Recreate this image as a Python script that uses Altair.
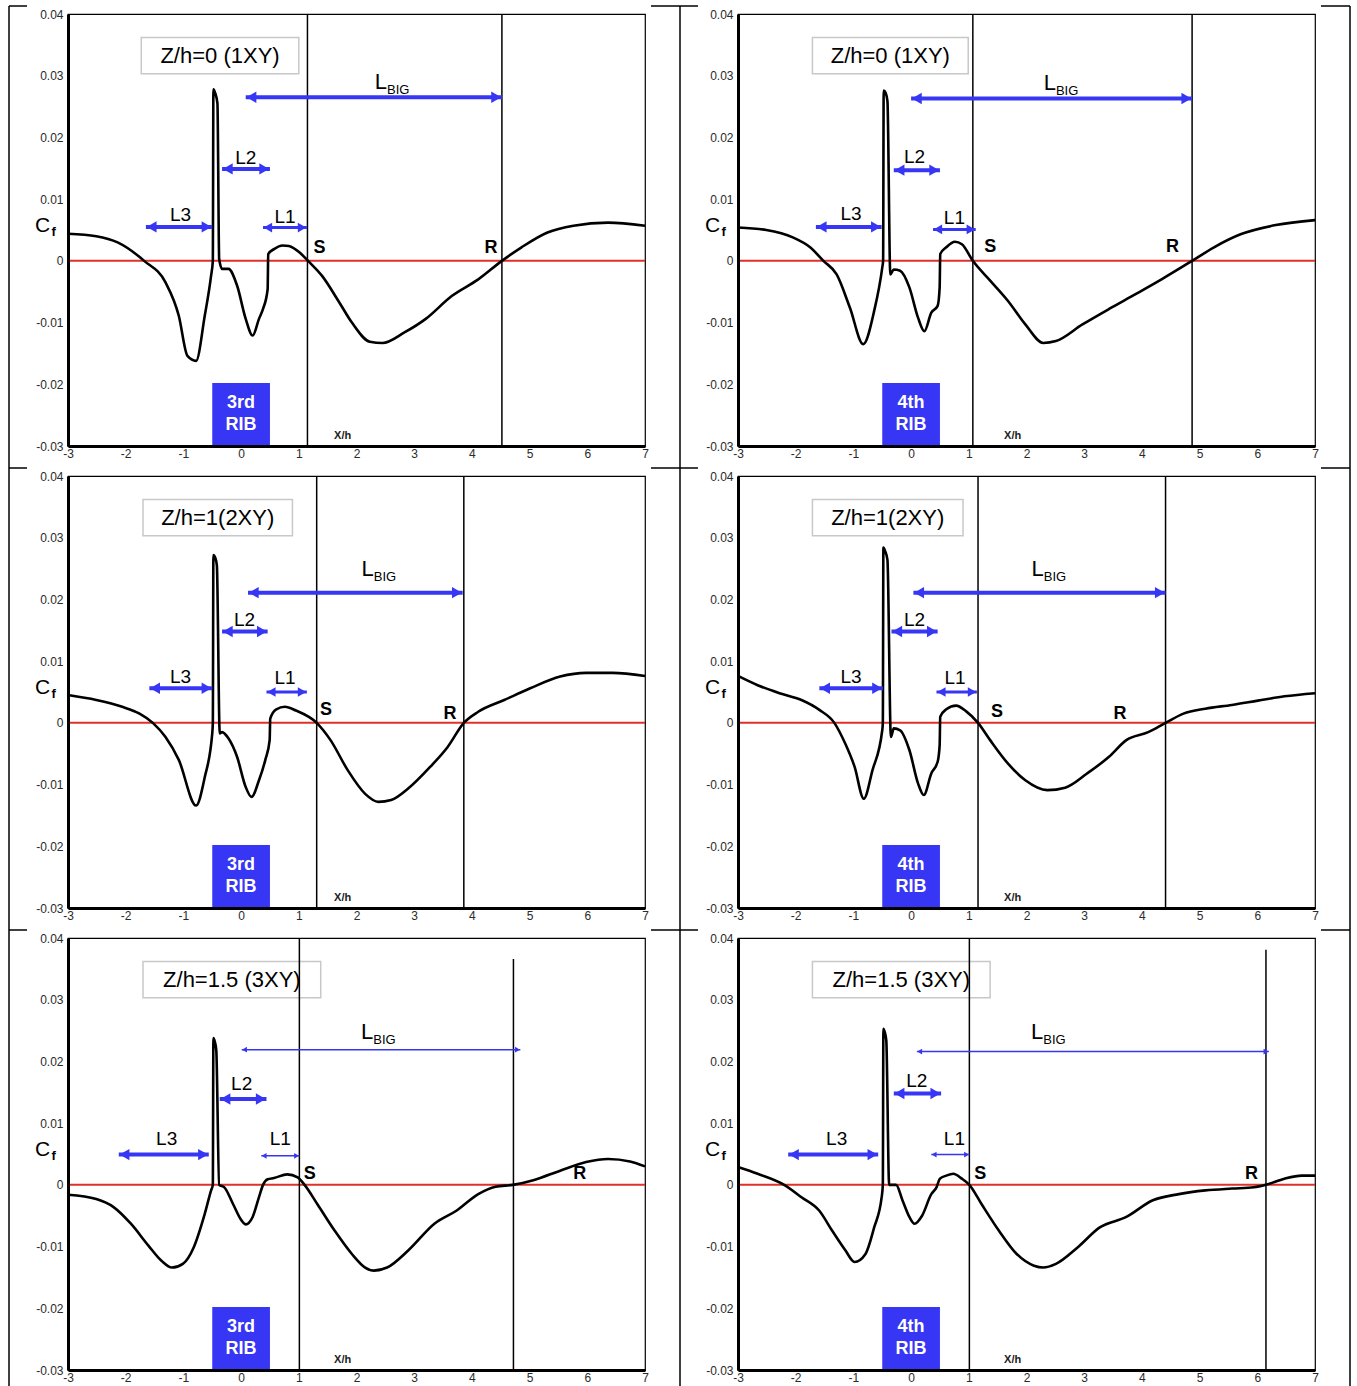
import altair as alt
import pandas as pd

FONT = "Liberation Sans"
BLUE = "#3636f4"
RED = "#e0302a"

# ---------------- curves (x/h, Cf) ----------------
P1_X = [-3.0, -2.51, -2.14, -1.68, -1.31, -1.08, -0.93, -0.78, -0.63, -0.52, -0.49, -0.48, -0.45, -0.41, -0.38, -0.33, -0.22, -0.07, 0.08, 0.20, 0.31, 0.38, 0.46, 0.47, 0.57, 0.72, 0.83, 1.02, 1.16, 1.40, 1.70, 1.92, 2.23, 2.45, 2.83, 3.20, 3.65, 4.11, 4.52, 4.86, 5.31, 5.76, 6.36, 7.0]
P1_Y = [0.0044, 0.0040, 0.0030, 0.0, -0.0035, -0.0089, -0.0154, -0.0162, -0.0089, -0.0024, 0.0, 0.0278, 0.0272, 0.0255, 0.0003, -0.0013, -0.0013, -0.0040, -0.0094, -0.0121, -0.0094, -0.0078, -0.0046, 0.0011, 0.0019, 0.0025, 0.0024, 0.0013, 0.0, -0.0024, -0.0067, -0.0100, -0.0131, -0.0133, -0.0116, -0.0094, -0.0057, -0.0030, 0.0, 0.0022, 0.0046, 0.0057, 0.0062, 0.0057]

P2_X = [-3.0, -2.51, -2.05, -1.75, -1.52, -1.29, -1.06, -0.83, -0.64, -0.50, -0.485, -0.475, -0.44, -0.41, -0.36, -0.30, -0.19, -0.03, 0.12, 0.23, 0.35, 0.46, 0.495, 0.505, 0.61, 0.76, 0.88, 1.07, 1.37, 1.68, 1.98, 2.29, 2.51, 2.97, 3.43, 3.89, 4.34, 4.87, 5.25, 5.71, 6.32, 7.0]
P2_Y = [0.0054, 0.0050, 0.0038, 0.0022, 0.0, -0.0022, -0.0076, -0.0135, -0.0081, -0.0011, 0.0, 0.0276, 0.0272, 0.0259, -0.0022, -0.0014, -0.0016, -0.0043, -0.0092, -0.0114, -0.0084, -0.0073, -0.0043, 0.0011, 0.0022, 0.0031, 0.0027, 0.0, -0.0032, -0.0065, -0.0103, -0.0133, -0.0130, -0.0103, -0.0078, -0.0054, -0.0030, 0.0, 0.0022, 0.0043, 0.0058, 0.0066]

P3_X = [-3.0, -2.51, -2.06, -1.76, -1.53, -1.31, -1.08, -0.78, -0.63, -0.50, -0.49, -0.48, -0.45, -0.42, -0.37, -0.33, -0.22, -0.07, 0.08, 0.18, 0.31, 0.42, 0.495, 0.505, 0.61, 0.76, 0.95, 1.31, 1.55, 1.85, 2.15, 2.38, 2.60, 2.90, 3.28, 3.58, 3.86, 4.11, 4.56, 5.01, 5.53, 5.98, 6.44, 7.0]
P3_Y = [0.0045, 0.0037, 0.0026, 0.0015, 0.0, -0.0023, -0.0060, -0.0134, -0.0088, -0.0017, 0.0, 0.0272, 0.0268, 0.0255, -0.0017, -0.0015, -0.0025, -0.0055, -0.0104, -0.0120, -0.0093, -0.0060, -0.0028, 0.0007, 0.0022, 0.0026, 0.0020, 0.0, -0.0028, -0.0077, -0.0115, -0.0128, -0.0125, -0.0106, -0.0071, -0.0039, 0.0, 0.0018, 0.0037, 0.0056, 0.0075, 0.0081, 0.0081, 0.0076]

P4_X = [-3.0, -2.66, -2.28, -1.90, -1.59, -1.33, -1.14, -0.98, -0.82, -0.67, -0.50, -0.49, -0.48, -0.45, -0.41, -0.35, -0.30, -0.19, -0.03, 0.12, 0.22, 0.35, 0.46, 0.495, 0.505, 0.61, 0.78, 0.95, 1.16, 1.37, 1.68, 1.98, 2.36, 2.67, 3.05, 3.43, 3.73, 4.11, 4.41, 4.72, 5.10, 5.56, 6.01, 6.47, 7.0]
P4_Y = [0.0076, 0.0061, 0.0048, 0.0037, 0.0021, 0.0, -0.0034, -0.0071, -0.0123, -0.0077, -0.0012, 0.0, 0.0284, 0.0278, 0.0264, -0.0023, -0.0009, -0.0012, -0.0044, -0.0098, -0.0117, -0.0082, -0.0063, -0.0036, 0.0010, 0.0022, 0.0028, 0.0019, 0.0, -0.0028, -0.0066, -0.0093, -0.0109, -0.0105, -0.0082, -0.0055, -0.0028, -0.0015, 0.0, 0.0015, 0.0023, 0.0029, 0.0036, 0.0043, 0.0048]

P5_X = [-3.0, -2.51, -2.21, -1.91, -1.61, -1.38, -1.20, -1.01, -0.82, -0.63, -0.52, -0.49, -0.48, -0.455, -0.43, -0.38, -0.29, -0.14, 0.01, 0.08, 0.20, 0.31, 0.38, 0.46, 0.57, 0.80, 0.98, 1.10, 1.32, 1.62, 1.92, 2.15, 2.30, 2.53, 2.90, 3.35, 3.73, 4.11, 4.41, 4.71, 5.08, 5.53, 5.98, 6.36, 6.74, 7.0]
P5_Y = [-0.0016, -0.0023, -0.0036, -0.0063, -0.0098, -0.0123, -0.0134, -0.0128, -0.0101, -0.0047, -0.0009, 0.0, 0.0238, 0.0232, 0.0218, 0.0, -0.0004, -0.0031, -0.0058, -0.0064, -0.0052, -0.0020, 0.0, 0.0009, 0.0011, 0.0017, 0.0012, 0.0, -0.0031, -0.0074, -0.0112, -0.0134, -0.0139, -0.0134, -0.0106, -0.0063, -0.0042, -0.0015, -0.0003, 0.0, 0.0008, 0.0023, 0.0037, 0.0042, 0.0038, 0.0030]

P6_X = [-3.0, -2.66, -2.20, -1.90, -1.59, -1.37, -1.14, -0.98, -0.79, -0.64, -0.51, -0.49, -0.48, -0.455, -0.43, -0.38, -0.26, -0.15, -0.03, 0.06, 0.19, 0.35, 0.44, 0.50, 0.61, 0.73, 0.88, 1.01, 1.22, 1.52, 1.83, 2.13, 2.29, 2.51, 2.89, 3.27, 3.73, 4.19, 4.64, 5.10, 5.56, 5.94, 6.15, 6.47, 6.77, 7.0]
P6_Y = [0.0029, 0.0018, 0.0, -0.0020, -0.0042, -0.0074, -0.0106, -0.0125, -0.0112, -0.0069, -0.0020, 0.0, 0.0253, 0.0247, 0.0234, 0.0, 0.0, -0.0025, -0.0052, -0.0063, -0.0050, -0.0015, -0.0004, 0.0010, 0.0015, 0.0018, 0.0010, 0.0, -0.0031, -0.0074, -0.0112, -0.0131, -0.0134, -0.0128, -0.0101, -0.0069, -0.0052, -0.0025, -0.0015, -0.0009, -0.0006, -0.0004, 0.0, 0.0010, 0.0015, 0.0015]

CURVES_X = [P1_X, P2_X, P3_X, P4_X, P5_X, P6_X]
CURVES_Y = [P1_Y, P2_Y, P3_Y, P4_Y, P5_Y, P6_Y]

# ---------------- per-panel annotations ----------------
TITLES = ["Z/h=0 (1XY)", "Z/h=0 (1XY)", "Z/h=1(2XY)", "Z/h=1(2XY)", "Z/h=1.5 (3XY)", "Z/h=1.5 (3XY)"]
TITLE_BOX_X1 = [-1.73, -1.71, -1.70, -1.71, -1.70, -1.71]
TITLE_BOX_X2 = [1.00, 0.99, 0.89, 0.90, 1.38, 1.37]
TITLE_BOX_Y = [0.0303, 0.0362]

RIB_ORDINAL = ["3rd", "4th", "3rd", "4th", "3rd", "4th"]
RIB_BOX_X = [-0.5, 0.5]
RIB_BOX_Y = [-0.03, -0.0198]
RIB_TEXT_Y = [-0.0230, -0.0266]

S_POS = [1.15, 1.07, 1.31, 1.16, 1.01, 1.01]
R_POS = [4.52, 4.87, 3.86, 4.41, 4.72, 6.15]
R_TOP = [0.04, 0.04, 0.04, 0.04, 0.0366, 0.0381]

LBIG_X1 = [0.08, 0.00, 0.12, 0.04, 0.01, 0.10]
LBIG_X2 = [4.52, 4.87, 3.84, 4.41, 4.84, 6.20]
LBIG_Y = [0.0265, 0.0263, 0.0211, 0.0211, 0.0219, 0.0216]
LBIG_W = [4, 4, 4, 4, 1.5, 1.5]
LBIG_TXT_X = [2.53, 2.51, 2.30, 2.30, 2.29, 2.29]
LBIG_TXT_Y = [0.0290, 0.0288, 0.0249, 0.0249, 0.0248, 0.0248]

L2_X1 = [-0.33, -0.30, -0.33, -0.34, -0.37, -0.30]
L2_X2 = [0.50, 0.50, 0.46, 0.46, 0.44, 0.52]
L2_Y = [0.0149, 0.0147, 0.0148, 0.0148, 0.0139, 0.0148]
L2_W = [4, 4, 4, 4, 4, 4]
L2_TXT_X = [0.08, 0.06, 0.06, 0.06, 0.01, 0.10]
L2_TXT_Y = [0.0167, 0.0168, 0.0166, 0.0166, 0.0164, 0.0169]

L3_X1 = [-1.65, -1.65, -1.59, -1.59, -2.12, -2.13]
L3_X2 = [-0.50, -0.51, -0.50, -0.49, -0.56, -0.57]
L3_Y = [0.0055, 0.0055, 0.0056, 0.0056, 0.0049, 0.0049]
L3_W = [4, 4, 4, 4, 4, 4]
L3_TXT_X = [-1.05, -1.04, -1.05, -1.04, -1.29, -1.29]
L3_TXT_Y = [0.0075, 0.0076, 0.0075, 0.0075, 0.0075, 0.0075]

L1_X1 = [0.38, 0.38, 0.44, 0.44, 0.35, 0.35]
L1_X2 = [1.14, 1.12, 1.14, 1.14, 1.01, 1.01]
L1_Y = [0.0054, 0.0051, 0.0050, 0.0050, 0.0047, 0.0049]
L1_W = [3, 3, 3, 3, 1.5, 1.5]
L1_TXT_X = [0.76, 0.75, 0.76, 0.76, 0.68, 0.75]
L1_TXT_Y = [0.0071, 0.0070, 0.0072, 0.0072, 0.0075, 0.0075]

S_TXT_X = [1.36, 1.37, 1.47, 1.49, 1.19, 1.20]
S_TXT_Y = [0.0021, 0.0022, 0.0021, 0.0018, 0.0018, 0.0018]
R_TXT_X = [4.33, 4.53, 3.62, 3.62, 5.87, 5.90]
R_TXT_Y = [0.0021, 0.0022, 0.0015, 0.0015, 0.0018, 0.0018]

XH_POS = [1.76, -0.0283]
C_POS = [-3.44, 0.0056]
F_POS = [-3.25, 0.0046]

X_TICKS = [-3, -2, -1, 0, 1, 2, 3, 4, 5, 6, 7]
Y_TICKS = [-0.03, -0.02, -0.01, 0.0, 0.01, 0.02, 0.03, 0.04]

PANEL_W = 577
PANEL_H = 432
PX_PER_X = PANEL_W / 10.0

# ---------------- scales / axes ----------------
XS = alt.Scale(domain=[-3, 7], nice=False, zero=False)
YS = alt.Scale(domain=[-0.03, 0.04], nice=False, zero=False)
XAX = alt.Axis(values=X_TICKS, title=None, grid=False, ticks=False, tickSize=0,
               domainWidth=3, domainColor="black",
               labelFont=FONT, labelFontSize=12, labelColor="#2a2a2a", labelPadding=2,
               labelFlush=False, labelOverlap=False, zindex=1,
               labelExpr="datum.value < 0 ? '-' + format(-datum.value, 'd') : format(datum.value, 'd')")
YAX = alt.Axis(values=Y_TICKS, title=None, grid=False, ticks=False, tickSize=0,
               domainWidth=3, domainColor="black",
               labelFont=FONT, labelFontSize=12, labelColor="#2a2a2a", labelPadding=5,
               labelFlush=False, labelOverlap=False, zindex=1,
               labelExpr="datum.value < 0 ? '-' + format(-datum.value, '.2~f') : format(datum.value, '.2~f')")


def X(f="x"):
    return alt.X(f"{f}:Q", scale=XS, axis=XAX)


def Y(f="y"):
    return alt.Y(f"{f}:Q", scale=YS, axis=YAX)


def texts(rows, **kw):
    df = pd.DataFrame(rows, columns=["x", "y", "t"])
    return alt.Chart(df).mark_text(font=FONT, **kw).encode(x=X(), y=Y(), text="t:N")


def panel(i, decorate=False):
    layers = []

    # title box
    tb = pd.DataFrame({"x1": [TITLE_BOX_X1[i]], "x2": [TITLE_BOX_X2[i]],
                       "y1": [TITLE_BOX_Y[0]], "y2": [TITLE_BOX_Y[1]]})
    layers.append(alt.Chart(tb).mark_rect(fill="white", stroke="#c8c8c8", strokeWidth=1.5)
                  .encode(x=X("x1"), x2=alt.X2("x2"), y=Y("y1"), y2=alt.Y2("y2")))

    # rib box
    rb = pd.DataFrame({"x1": [RIB_BOX_X[0]], "x2": [RIB_BOX_X[1]],
                       "y1": [RIB_BOX_Y[0]], "y2": [RIB_BOX_Y[1]]})
    layers.append(alt.Chart(rb).mark_rect(fill=BLUE)
                  .encode(x=X("x1"), x2=alt.X2("x2"), y=Y("y1"), y2=alt.Y2("y2")))

    # zero line
    layers.append(alt.Chart(pd.DataFrame({"y": [0.0]})).mark_rule(color=RED, strokeWidth=2)
                  .encode(y=Y()))

    # S and R lines
    vl = pd.DataFrame({"x": [S_POS[i], R_POS[i]], "yt": [0.04, R_TOP[i]], "yb": [-0.03, -0.03]})
    layers.append(alt.Chart(vl).mark_rule(color="black", strokeWidth=1.5)
                  .encode(x=X(), y=Y("yt"), y2=alt.Y2("yb")))

    # curve
    cx, cy = CURVES_X[i], CURVES_Y[i]
    cdf = pd.DataFrame({"x": cx, "y": cy, "i": list(range(len(cx)))})
    layers.append(alt.Chart(cdf).mark_line(color="black", strokeWidth=2.6, interpolate="monotone")
                  .encode(x=X(), y=Y(), order="i:Q"))

    # arrows
    arrows = [
        (LBIG_X1[i], LBIG_X2[i], LBIG_Y[i], LBIG_W[i]),
        (L2_X1[i], L2_X2[i], L2_Y[i], L2_W[i]),
        (L3_X1[i], L3_X2[i], L3_Y[i], L3_W[i]),
        (L1_X1[i], L1_X2[i], L1_Y[i], L1_W[i]),
    ]
    adf = pd.DataFrame(arrows, columns=["x1", "x2", "y", "w"])
    layers.append(alt.Chart(adf).mark_rule(color=BLUE)
                  .encode(x=X("x1"), x2=alt.X2("x2"), y=Y(),
                          strokeWidth=alt.StrokeWidth("w:Q", scale=None)))
    heads = []
    for x1, x2, y, w in arrows:
        size = 130 if w >= 4 else (95 if w >= 3 else 32)
        half = (size ** 0.5) / 2.0 / PX_PER_X
        heads.append((x1 + half, y, "triangle-left", size))
        heads.append((x2 - half, y, "triangle-right", size))
    hdf = pd.DataFrame(heads, columns=["x", "y", "shape", "size"])
    layers.append(alt.Chart(hdf).mark_point(filled=True, color=BLUE, opacity=1, strokeWidth=0)
                  .encode(x=X(), y=Y(), shape=alt.Shape("shape:N", scale=None),
                          size=alt.Size("size:Q", scale=None)))

    # labels
    layers.append(texts([(L2_TXT_X[i], L2_TXT_Y[i], "L2"), (L3_TXT_X[i], L3_TXT_Y[i], "L3"),
                         (L1_TXT_X[i], L1_TXT_Y[i], "L1")],
                        fontSize=19, color="black", baseline="middle", align="center"))
    layers.append(texts([(S_TXT_X[i], S_TXT_Y[i], "S"), (R_TXT_X[i], R_TXT_Y[i], "R")],
                        fontSize=18, fontWeight="bold", color="black", baseline="middle", align="center"))
    layers.append(texts([(LBIG_TXT_X[i], LBIG_TXT_Y[i], "L")],
                        fontSize=22, color="black", baseline="middle", align="right"))
    layers.append(texts([(LBIG_TXT_X[i], LBIG_TXT_Y[i] - 0.0013, "BIG")],
                        fontSize=13, color="black", baseline="middle", align="left"))
    cx_t = (TITLE_BOX_X1[i] + TITLE_BOX_X2[i]) / 2.0
    cy_t = (TITLE_BOX_Y[0] + TITLE_BOX_Y[1]) / 2.0
    layers.append(texts([(cx_t, cy_t, TITLES[i])],
                        fontSize=22, color="black", baseline="middle", align="center"))
    layers.append(texts([(0.0, RIB_TEXT_Y[0], RIB_ORDINAL[i]), (0.0, RIB_TEXT_Y[1], "RIB")],
                        fontSize=18, fontWeight="bold", color="white", baseline="middle", align="center"))
    layers.append(texts([(XH_POS[0], XH_POS[1], "X/h")],
                        fontSize=11, fontWeight="bold", color="#222222", baseline="middle", align="center"))
    layers.append(texts([(C_POS[0], C_POS[1], "C")],
                        fontSize=21, color="black", baseline="middle", align="center"))
    layers.append(texts([(F_POS[0], F_POS[1], "f")],
                        fontSize=13, fontWeight="bold", color="black", baseline="middle", align="center"))

    if decorate:
        one = pd.DataFrame({"a": [0]})
        for vx in [-59, 612, 1282]:
            layers.append(alt.Chart(one).mark_rule(color="black", strokeWidth=1.5)
                          .encode(x=alt.value(vx), y=alt.value(-8), y2=alt.value(1373)))
        for hy in [-8, 454, 916]:
            for hx1, hx2 in [(-59, -41), (583, 630), (1253, 1282)]:
                layers.append(alt.Chart(one).mark_rule(color="black", strokeWidth=1.5)
                              .encode(x=alt.value(hx1), x2=alt.value(hx2), y=alt.value(hy)))

    return alt.layer(*layers).properties(width=PANEL_W, height=PANEL_H)


panels = [panel(k, decorate=(k == 0)) for k in range(6)]

chart = alt.concat(*panels, columns=2, spacing={"row": 30, "column": 93}, bounds="flush").properties(
    padding={"left": 7, "top": 4, "right": 0, "bottom": 0},
    background="white",
).configure_view(stroke="black", strokeWidth=1.2)

chart.save("out.html", embed_options={"renderer": "svg", "actions": False})
